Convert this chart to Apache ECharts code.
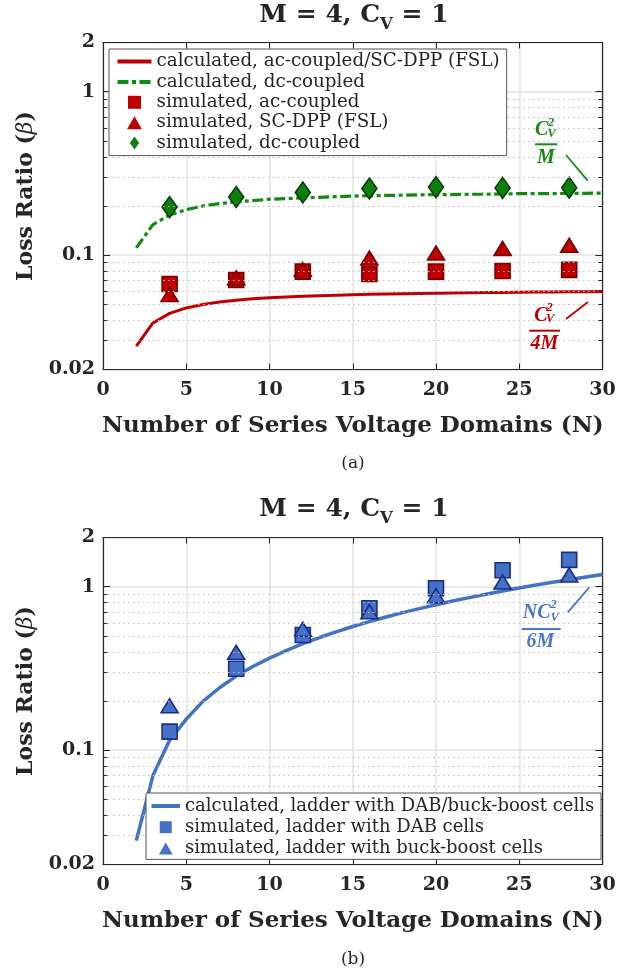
<!DOCTYPE html>
<html><head><meta charset="utf-8">
<script src="https://cdn.jsdelivr.net/npm/echarts@6/dist/echarts.min.js"></script>
<style>html,body{margin:0;padding:0;background:#fff}#c{width:640px;height:975px}</style>
</head><body><div id="c"></div>
<script>
// ---------- data ----------
const nCalc = [2,3,4,5,6,7,8,9,10,11,12,13,14,15,16,17,18,19,20,21,22,23,24,25,26,27,28,29,30];
const calcAC = [0.0278,0.0385,0.0441,0.0476,0.0500,0.0517,0.0530,0.0541,0.0549,0.0556,0.0561,0.0566,0.0570,0.0574,0.0577,0.0580,0.0582,0.0584,0.0586,0.0588,0.0590,0.0591,0.0592,0.0594,0.0595,0.0596,0.0597,0.0598,0.0599];
const calcDC = [0.111,0.154,0.176,0.190,0.200,0.207,0.212,0.216,0.220,0.222,0.224,0.226,0.228,0.230,0.231,0.232,0.233,0.234,0.235,0.235,0.236,0.236,0.237,0.238,0.238,0.238,0.239,0.239,0.240];
const nSim = [4,8,12,16,20,24,28];
const simAC = [0.0667,0.0706,0.0794,0.0768,0.0794,0.0801,0.0813];
const simSC = [0.0574,0.0728,0.0819,0.096,0.103,0.110,0.115];
const simDC = [0.197,0.227,0.242,0.256,0.261,0.258,0.259];
const calcLadder = [0.028,0.070,0.115,0.155,0.199,0.241,0.284,0.325,0.366,0.407,0.448,0.489,0.530,0.571,0.612,0.653,0.694,0.735,0.776,0.817,0.858,0.899,0.942,0.983,1.024,1.064,1.104,1.145,1.186];
const simDAB = [0.130,0.315,0.507,0.738,0.978,1.26,1.46];
const simBB = [0.187,0.397,0.549,0.703,0.881,1.07,1.18];
const minorY = [0.03,0.04,0.05,0.06,0.07,0.08,0.09,0.2,0.3,0.4,0.5,0.6,0.7,0.8,0.9];
const xTicks = {min:0, max:30, interval:5};
const yRange = {min:0.02, max:2};
const namesA = ['calculated, ac-coupled/SC-DPP (FSL)','calculated, dc-coupled','simulated, ac-coupled','simulated, SC-DPP (FSL)','simulated, dc-coupled'];
const namesB = ['calculated, ladder with DAB/buck-boost cells','simulated, ladder with DAB cells','simulated, ladder with buck-boost cells'];

const zip = (xs, ys) => xs.map((x, i) => [x, ys[i]]);

// ---------- style ----------
const SERIF = 'DejaVu Serif';
const INK = '#262626';
const RED = '#c00000', RED_D = '#780000';
const GREEN = '#0c7f0c', GREEN_D = '#053d05', GREEN_L = '#138a13';
const BLUE = '#4472c4', BLUE_D = '#1a2d8c';
const plotTops = [42.5, 537.5];
const plotH = 327;

function xAxes(g) {
  return [
    {gridIndex:g, type:'value', ...xTicks, position:'bottom',
     axisLine:{show:true, lineStyle:{color:INK, width:1.2}},
     axisTick:{show:true, inside:true, length:6, lineStyle:{color:INK}},
     axisLabel:{fontFamily:SERIF, fontWeight:'bold', fontSize:19, color:INK, margin:11},
     splitLine:{show:true, lineStyle:{color:'#e3e3e3', width:1.5}},
     name:'Number of Series Voltage Domains (N)', nameLocation:'middle', nameGap:45,
     nameTextStyle:{fontFamily:SERIF, fontWeight:'bold', fontSize:23, color:INK}},
    {gridIndex:g, type:'value', ...xTicks, position:'top',
     axisLine:{show:true, onZero:false, lineStyle:{color:INK, width:1.2}},
     axisTick:{show:true, inside:true, length:6, lineStyle:{color:INK}},
     axisLabel:{show:false}, splitLine:{show:false}}
  ];
}
function yAxes(g) {
  return [
    {gridIndex:g, type:'log', logBase:10, ...yRange, position:'left',
     axisLine:{show:true, onZero:false, lineStyle:{color:INK, width:1.2}},
     axisTick:{show:true, inside:true, length:7, lineStyle:{color:INK}},
     axisLabel:{fontFamily:SERIF, fontWeight:'bold', fontSize:19, color:INK, margin:8,
       formatter: v => String(Number(Number(v).toPrecision(6)))},
     splitLine:{show:true, lineStyle:{color:'#e3e3e3', width:1.5}},
     name:'{n|Loss Ratio (}{b|β}{n|)}', nameLocation:'middle', nameGap:66,
     nameTextStyle:{padding:[0,0,0,20], rich:{
       n:{fontFamily:SERIF, fontWeight:'bold', fontSize:22, color:INK},
       b:{fontFamily:SERIF, fontStyle:'italic', fontSize:22, color:INK}}}},
    {gridIndex:g, type:'log', logBase:10, ...yRange, position:'right',
     axisLine:{show:true, onZero:false, lineStyle:{color:INK, width:1.2}},
     axisTick:{show:true, inside:true, length:7, lineStyle:{color:INK}},
     axisLabel:{show:false}, splitLine:{show:false}}
  ];
}
function helpers(xi, yi) {
  const segs = [];
  minorY.forEach(v => {
    segs.push([{coord:[0, v]}, {coord:[0.25, v]}]);
    segs.push([{coord:[29.75, v]}, {coord:[30, v]}]);
  });
  return [
    {type:'line', xAxisIndex:xi, yAxisIndex:yi, data:[], silent:true, z:1,
     markLine:{silent:true, symbol:'none', animation:false, label:{show:false},
       lineStyle:{color:'#bdbdbd', type:[1.5,3.5], width:1}, emphasis:{disabled:true},
       data: minorY.map(v => ({yAxis:v}))}},
    {type:'line', xAxisIndex:xi, yAxisIndex:yi, data:[], silent:true, z:1,
     markLine:{silent:true, symbol:'none', animation:false, label:{show:false},
       lineStyle:{color:INK, type:'solid', width:1}, emphasis:{disabled:true},
       data: segs}}
  ];
}
function scatter(name, xi, yi, ys, symbol, size, fill, border, z) {
  return {name, type:'scatter', xAxisIndex:xi, yAxisIndex:yi, data:zip(nSim, ys),
    symbol, symbolSize:size, z,
    itemStyle:{color:fill, borderColor:border, borderWidth:1.6, opacity:1}};
}

const series = [
  ...helpers(0, 0),
  {name:namesA[0], type:'line', xAxisIndex:0, yAxisIndex:0, data:zip(nCalc, calcAC), symbol:'none', z:2,
   lineStyle:{color:RED, width:3}, itemStyle:{color:RED}},
  {name:namesA[1], type:'line', xAxisIndex:0, yAxisIndex:0, data:zip(nCalc, calcDC), symbol:'none', z:2,
   lineStyle:{color:GREEN_L, width:3.2, type:[11,3.5,4,3.5]}, itemStyle:{color:GREEN_L}},
  scatter(namesA[2], 0, 0, simAC, 'rect', 15, RED, RED_D, 3),
  scatter(namesA[3], 0, 0, simSC, 'triangle', [17,14], RED, RED_D, 4),
  scatter(namesA[4], 0, 0, simDC, 'diamond', [15,21], GREEN, GREEN_D, 4),
  ...helpers(2, 2),
  {name:namesB[0], type:'line', xAxisIndex:2, yAxisIndex:2, data:zip(nCalc, calcLadder), symbol:'none', z:2,
   lineStyle:{color:BLUE, width:3.5}, itemStyle:{color:BLUE}},
  scatter(namesB[1], 2, 2, simDAB, 'rect', 15, BLUE, BLUE_D, 3),
  scatter(namesB[2], 2, 2, simBB, 'triangle', [17,14], BLUE, BLUE_D, 4)
];

const diamondIcon = 'path://M5,0L10,7L5,14L0,7Z';
const squareIcon = 'path://M0,0H10V10H0Z';
const triIcon = 'path://M6,0L12,10.5L0,10.5Z';
const legendText = (w, fs) => ({fontFamily:SERIF, fontSize:fs, color:INK, lineHeight:20, width:w});
const hideSym = {opacity:0, color:'rgba(0,0,0,0)', borderWidth:0};

function txt(x, y, text, size, color, opts) {
  return Object.assign({type:'text', x, y, z:50, style:Object.assign({text, fill:color,
    font:'italic bold ' + size + 'px "Liberation Serif"', align:'left', verticalAlign:'middle'}, opts || {})});
}
function ln(x1, y1, x2, y2, color, w) {
  return {type:'line', z:50, shape:{x1, y1, x2, y2}, style:{stroke:color, lineWidth:w}};
}
const ANN_G = '#168a16', ANN_R = '#c00000', ANN_B = '#4a78c6';

const titleRich = {
  a:{fontFamily:SERIF, fontWeight:'bold', fontSize:25, fill:INK, padding:[0,0,5,0], verticalAlign:'bottom'},
  s:{fontFamily:SERIF, fontWeight:'bold', fontSize:16.5, fill:INK, verticalAlign:'bottom'}
};
function titleEl(y) {
  return {type:'text', x:354, y, z:50, style:{text:'{a|M = 4, C}{s|V}{a| = 1}', rich:titleRich,
    align:'center', verticalAlign:'middle'}};
}

const graphic = [
  titleEl(18), titleEl(512),
  {type:'text', x:353, y:464, style:{text:'(a)', font:'17px "DejaVu Serif"', fill:INK, align:'center', verticalAlign:'middle'}},
  {type:'text', x:353, y:960, style:{text:'(b)', font:'17px "DejaVu Serif"', fill:INK, align:'center', verticalAlign:'middle'}},
  // green C_V^2 / M
  txt(535, 130, 'C', 20, ANN_G), txt(548, 123, '2', 12.5, ANN_G), txt(547.5, 134, 'V', 12.5, ANN_G),
  ln(535, 144.3, 557.3, 144.3, ANN_G, 2),
  txt(546, 157.5, 'M', 20, ANN_G, {align:'center'}),
  ln(566, 155, 587.7, 180.7, ANN_G, 1.8),
  // red C_V^2 / 4M
  txt(534.3, 315.5, 'C', 20, ANN_R),
  txt(546.5, 308, '2', 12.5, ANN_R), txt(546, 319, 'V', 12.5, ANN_R),
  ln(529.3, 330.7, 560, 330.7, ANN_R, 2),
  txt(544.5, 343.5, '4M', 20, ANN_R, {align:'center'}),
  ln(566, 319, 588, 302, ANN_R, 1.8),
  // blue N C_V^2 / 6M
  txt(522.7, 612.7, 'NC', 20, ANN_B), txt(550.5, 605, '2', 12.5, ANN_B), txt(550.5, 618, 'V', 12.5, ANN_B),
  ln(521.7, 629, 560.7, 629, ANN_B, 2),
  txt(540.5, 642, '6M', 20, ANN_B, {align:'center'}),
  ln(567.7, 612.3, 589.3, 587.3, ANN_B, 1.8)
];

const option = {
  animation:false,
  backgroundColor:'#fff',
  grid:[
    {left:103, right:37.5, top:plotTops[0], height:plotH, show:false},
    {left:103, right:37.5, top:plotTops[1], height:plotH, show:false}
  ],
  xAxis:[...xAxes(0), ...xAxes(1)],
  yAxis:[...yAxes(0), ...yAxes(1)],
  legend:[
    {left:109, top:49, orient:'vertical', selectedMode:false, padding:[2.5,7,2.5,6.5], itemGap:0.4,
     itemWidth:34, itemHeight:13, symbolKeepAspect:true, backgroundColor:'#fff', borderColor:'#555', borderWidth:1, z:20,
     textStyle:legendText(341, 18.3),
     data:[
       {name:namesA[0], itemStyle:hideSym, lineStyle:{width:4}},
       {name:namesA[1], itemStyle:hideSym, lineStyle:{width:4}},
       {name:namesA[2], icon:squareIcon, itemStyle:{borderWidth:0}},
       {name:namesA[3], icon:triIcon, itemStyle:{borderWidth:0}},
       {name:namesA[4], icon:diamondIcon, itemStyle:{borderWidth:0}}
     ]},
    {left:146, top:793, orient:'vertical', selectedMode:false, padding:[3,3,1,3.5], itemGap:1.2,
     itemWidth:28.5, itemHeight:12, symbolKeepAspect:true, backgroundColor:'#fff', borderColor:'#555', borderWidth:1, z:20,
     textStyle:legendText(413, 18.0),
     data:[
       {name:namesB[0], itemStyle:hideSym, lineStyle:{width:4}},
       {name:namesB[1], icon:squareIcon, itemStyle:{borderWidth:0}},
       {name:namesB[2], icon:triIcon, itemStyle:{borderWidth:0}}
     ]}
  ],
  series,
  graphic
};

const chart = echarts.init(document.getElementById('c'), null, {renderer:'canvas'});
chart.setOption(option);
</script>
</body></html>
